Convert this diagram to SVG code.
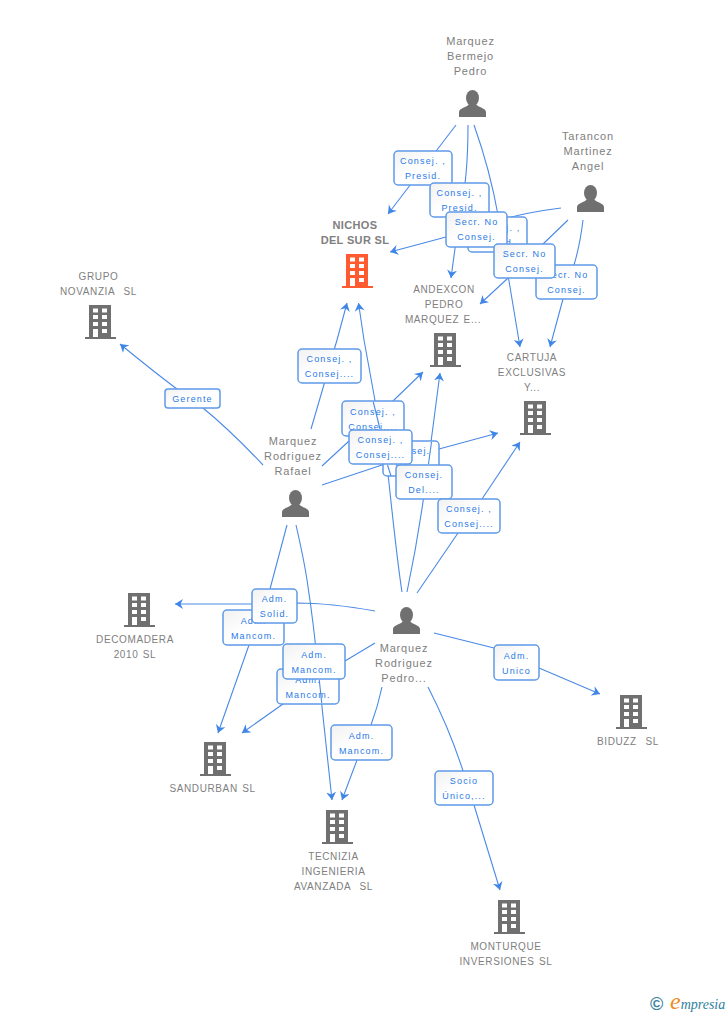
<svg xmlns="http://www.w3.org/2000/svg" width="728" height="1015" viewBox="0 0 728 1015">
<style>
text{font-family:"Liberation Sans",Arial,sans-serif;white-space:pre}
.n{font-size:11px;fill:#808080;text-anchor:middle;letter-spacing:.85px}
.s{font-size:10px;letter-spacing:.62px;word-spacing:1px}
.b{font-weight:bold;letter-spacing:.35px}
.c path,.o path{fill:none;stroke:#4a8ae6;stroke-width:1.1}
.c path{marker-end:url(#a)}
.l rect{fill:url(#g);stroke:#5f9be8;stroke-width:1.5}
.l text{font-size:9px;fill:#2a7ae6;text-anchor:middle;letter-spacing:1.15px}
.i{fill:#707070}
.r{fill:#ff5a30}
</style>
<defs>
<linearGradient id="g" x1="0" y1="0" x2="1" y2="1"><stop offset="0" stop-color="#f1f1f1"/><stop offset=".45" stop-color="#fff"/></linearGradient>
<marker id="a" markerUnits="userSpaceOnUse" markerWidth="11" markerHeight="11" refX="8" refY="5" orient="auto"><path d="M8,5 L0,0 L2.500,5 L0,10 Z" fill="#3f86e6"/></marker>
<g id="bd"><path fill-rule="evenodd" d="M0,32H4V0H26V32H31V34H0Z M8,3.500V7.500H13V3.500Z M17,3.500V7.500H22V3.500Z M8,10V14H13V10Z M17,10V14H22V10Z M8,17V21H13V17Z M17,17V21H22V17Z M8,24V32H13V24Z M17,24V28H22V24Z"/></g>
<g id="pn"><ellipse cx="13.500" cy="8" rx="6.500" ry="8"/><path d="M0,27V22C0,18 8,17.500 10,14H17C19,17.500 27,18 27,22V27Z"/></g>
</defs>
<g id="connectors" class="c">
<path d="M456,125L388,214"/>
<path d="M468,125Q468,180 460,212L451,278"/>
<path d="M474,125Q490,170 498,215L520,347"/>
<path d="M561,208Q530,212 507,218L446,237L390,252"/>
<path d="M568,220L543,244L507,279L480,304"/>
<path d="M583,220Q580,245 574,265L563,299L550,347"/>
<path d="M311,429L337,340L347,303"/>
<path d="M322,466L349,441L393,401L423,372"/>
<path d="M322,485L382,465L439,449L498,433"/>
<path d="M263,465Q230,430 203,408Q170,385 120,344"/>
<path d="M287,525L270,589L249,645L218,733"/>
<path d="M296,525Q304,560 307,580Q314,625 319,679L332,800"/>
<path d="M402,592Q397,560 387,464L380,428L364,340L358.500,303"/>
<path d="M407,592Q420,530 428,465L440,373"/>
<path d="M417,593L458,533L482,499L520,442"/>
<path d="M375,611Q330,603 297,603L252,604L175,604"/>
<path d="M375,643L345,661L283,704L242,733"/>
<path d="M382,687Q378,706 371,725L357,760L342,800"/>
<path d="M428,687Q450,730 463,771L474,805L500,890"/>
<path d="M434,633L494,648L539,668L600,694"/>
</g>
<g id="labels" class="l">
<g id="l1"><rect x="165" y="389" width="55" height="19" rx="3"/><text x="192.500" y="402">Gerente</text></g>
<g id="l2"><rect x="394" y="151" width="58" height="34" rx="4"/><text x="423" y="164">Consej. ,</text><text x="423" y="179">Presid.</text></g>
<g id="l3"><rect x="430" y="183" width="59" height="34" rx="4"/><text x="459.500" y="196">Consej. ,</text><text x="459.500" y="211">Presid.</text></g>
<g id="l4"><rect x="468" y="217" width="59" height="35" rx="4"/><text x="497.500" y="231">Consej. ,</text><text x="497.500" y="246">Presid.</text></g>
<g id="l5"><rect x="446" y="212" width="61" height="35" rx="4"/><text x="476.500" y="225">Secr. No</text><text x="476.500" y="240">Consej.</text></g>
<g id="l6"><rect x="536" y="265" width="61" height="34" rx="4"/><text x="566.500" y="278">Secr. No</text><text x="566.500" y="293">Consej.</text></g>
<g id="l7"><rect x="494" y="244" width="61" height="34" rx="4"/><text x="524.500" y="257">Secr. No</text><text x="524.500" y="272">Consej.</text></g>
<g id="l8"><rect x="298" y="349" width="63" height="34" rx="4"/><text x="329.500" y="362">Consej. ,</text><text x="329.500" y="377">Consej....</text></g>
<g id="l9"><rect x="342" y="401" width="62" height="35" rx="4"/><text x="373" y="415">Consej. ,</text><text x="373" y="430">Consej....</text></g>
<g id="l10"><rect x="383" y="441" width="56" height="35" rx="4"/><text x="411" y="454">Consej.</text><text x="411" y="469">Del....</text></g>
<g id="l11"><rect x="349" y="430" width="63" height="34" rx="4"/><text x="380.500" y="443">Consej. ,</text><text x="380.500" y="458">Consej....</text></g>
<g id="l12"><rect x="396" y="465" width="56" height="34" rx="4"/><text x="424" y="478">Consej.</text><text x="424" y="493">Del....</text></g>
<g id="l13"><rect x="438" y="499" width="62" height="34" rx="4"/><text x="469" y="512">Consej. ,</text><text x="469" y="527">Consej....</text></g>
<g id="l14"><rect x="223" y="610" width="61" height="35" rx="4"/><text x="253.500" y="624">Adm.</text><text x="253.500" y="639">Mancom.</text></g>
<g id="l15"><rect x="252" y="589" width="45" height="34" rx="4"/><text x="274.500" y="602">Adm.</text><text x="274.500" y="617">Solid.</text></g>
<g id="l16"><rect x="277" y="669" width="62" height="35" rx="4"/><text x="308" y="683">Adm.</text><text x="308" y="698">Mancom.</text></g>
<g id="l17"><rect x="283" y="644" width="62" height="35" rx="4"/><text x="314" y="658">Adm.</text><text x="314" y="673">Mancom.</text></g>
<g id="l18"><rect x="331" y="725" width="61" height="35" rx="4"/><text x="361.500" y="739">Adm.</text><text x="361.500" y="754">Mancom.</text></g>
<g id="l19"><rect x="435" y="771" width="58" height="34" rx="4"/><text x="464" y="784">Socio</text><text x="464" y="799">Único,...</text></g>
<g id="l20"><rect x="494" y="645" width="45" height="35" rx="4"/><text x="516.500" y="659">Adm.</text><text x="516.500" y="674">Unico</text></g>
</g>
<g id="connectors-over" class="o">
<path d="M373.300,402L380,429"/>
<path d="M431.500,442L428.500,464"/>
<path d="M387.500,465L391,476"/>
<path d="M319.300,680L321.700,703"/>
</g>
<g id="n-bermejo"><text class="n" x="470.500" y="45">Marquez</text><text class="n" x="470.500" y="60">Bermejo</text><text class="n" x="470.500" y="75">Pedro</text><use href="#pn" class="i" x="459" y="90"/></g>
<g id="n-tarancon"><text class="n" x="588" y="140">Tarancon</text><text class="n" x="588" y="155">Martinez</text><text class="n" x="588" y="170">Angel</text><use href="#pn" class="i" x="577" y="185"/></g>
<g id="n-nichos"><text class="n b" x="355" y="229">NICHOS</text><text class="n b" x="355" y="244">DEL SUR SL</text><use href="#bd" class="r" x="342" y="254"/></g>
<g id="n-novanzia"><text class="n s" x="98.500" y="280">GRUPO</text><text class="n s" x="98.500" y="295">NOVANZIA  SL</text><use href="#bd" class="i" x="85" y="305"/></g>
<g id="n-andexcon"><text class="n s" x="444" y="293">ANDEXCON</text><text class="n s" x="444" y="308">PEDRO</text><text class="n s" x="443" y="323">MARQUEZ E...</text><use href="#bd" class="i" x="430" y="333"/></g>
<g id="n-cartuja"><text class="n s" x="532" y="361">CARTUJA</text><text class="n s" x="532" y="376">EXCLUSIVAS</text><text class="n s" x="532" y="391">Y...</text><use href="#bd" class="i" x="520" y="401"/></g>
<g id="n-rafael"><text class="n" x="293" y="445">Marquez</text><text class="n" x="293" y="460">Rodriguez</text><text class="n" x="293" y="475">Rafael</text><use href="#pn" class="i" x="282" y="490"/></g>
<g id="n-pedro"><text class="n" x="404" y="652">Marquez</text><text class="n" x="404" y="667">Rodriguez</text><text class="n" x="404" y="682">Pedro...</text><use href="#pn" class="i" x="393" y="607"/></g>
<g id="n-decomadera"><text class="n s" x="135" y="643">DECOMADERA</text><text class="n s" x="135" y="658">2010 SL</text><use href="#bd" class="i" x="124" y="593"/></g>
<g id="n-sandurban"><text class="n s" x="212.500" y="792">SANDURBAN SL</text><use href="#bd" class="i" x="200" y="742"/></g>
<g id="n-tecnizia"><text class="n s" x="333.500" y="860">TECNIZIA</text><text class="n s" x="333.500" y="875">INGENIERIA</text><text class="n s" x="333.500" y="890">AVANZADA  SL</text><use href="#bd" class="i" x="322" y="810"/></g>
<g id="n-biduzz"><text class="n s" x="628" y="745">BIDUZZ  SL</text><use href="#bd" class="i" x="616" y="695"/></g>
<g id="n-monturque"><text class="n s" x="506" y="950">MONTURQUE</text><text class="n s" x="506" y="965">INVERSIONES SL</text><use href="#bd" class="i" x="494" y="900"/></g>
<g id="logo"><text x="650" y="1010" style="font-size:18px;font-weight:bold;fill:#3b7f9c">©</text><text x="670" y="1009" style="font-family:'Liberation Serif',serif;font-style:italic;font-size:14px;fill:#2f7f9e"><tspan style="font-size:24px;fill:#f08a1e">e</tspan>mpresia</text></g>
</svg>
